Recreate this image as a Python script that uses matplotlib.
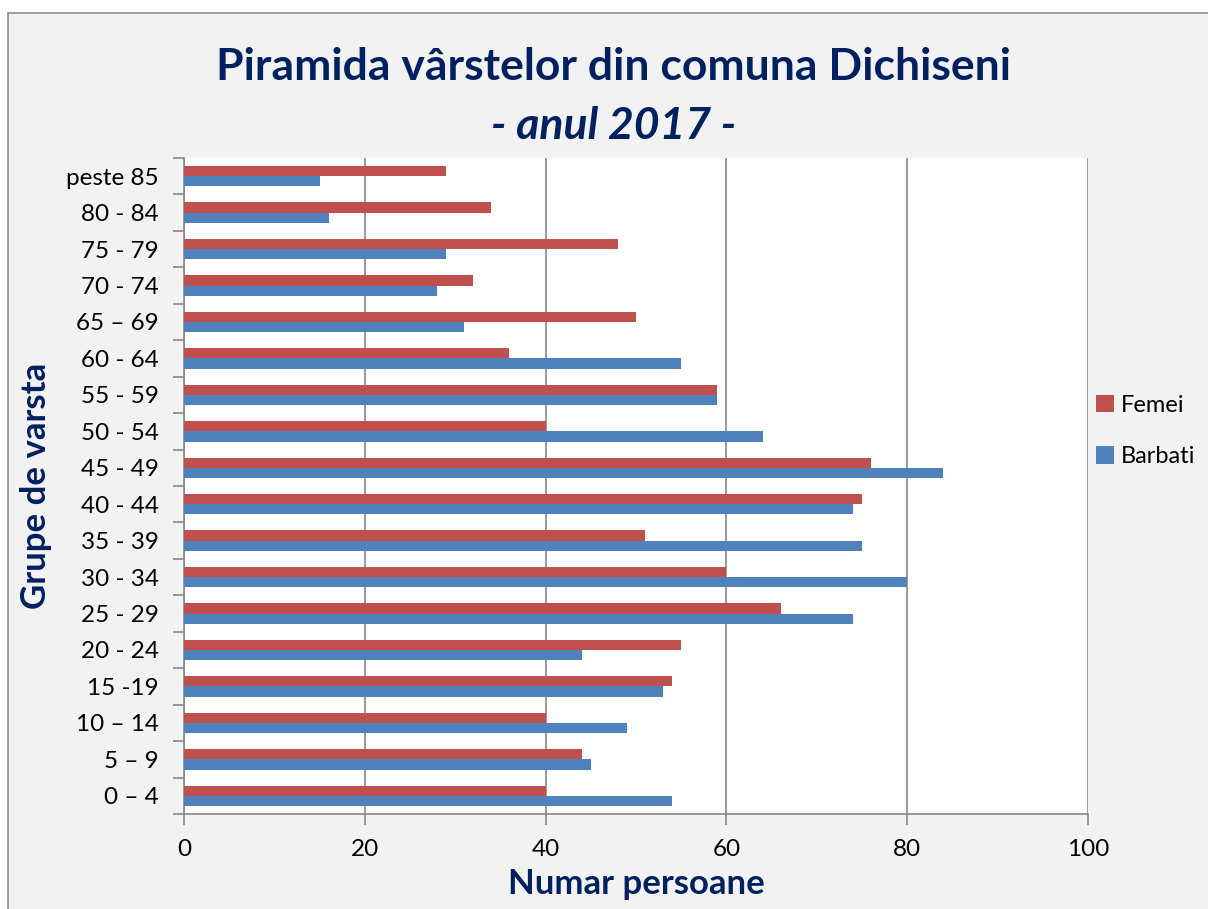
import matplotlib
matplotlib.use("Agg")
import matplotlib.pyplot as plt
import numpy as np
from matplotlib.patches import Rectangle

categories = ["0 – 4", "5 – 9", "10 – 14", "15 -19", "20 - 24", "25 - 29", "30 - 34",
              "35 - 39", "40 - 44", "45 - 49", "50 - 54", "55 - 59", "60 - 64",
              "65 – 69", "70 - 74", "75 - 79", "80 - 84", "peste 85"]
femei = [40, 44, 40, 54, 55, 66, 60, 51, 75, 76, 40, 59, 36, 50, 32, 48, 34, 29]
barbati = [54, 45, 49, 53, 44, 74, 80, 75, 74, 84, 64, 59, 55, 31, 28, 29, 16, 15]
xticks = [0, 20, 40, 60, 80, 100]

plt.rcParams['font.family'] = ['Lato', 'DejaVu Sans']

W, H = 1208, 909
fig = plt.figure(figsize=(W / 100, H / 100), dpi=100)
fig.patch.set_facecolor('white')
fig.patches.append(Rectangle((8 / W, -0.1), 1.2, 1.1 - 13 / H, transform=fig.transFigure,
                             facecolor='#F2F2F2', edgecolor='#8C8C8C', linewidth=1.2,
                             zorder=-10))

ax = fig.add_axes([184 / W, 1 - 814 / H, (1088 - 184) / W, (814 - 158) / H])
ax.set_facecolor('white')
y = np.arange(len(categories))
bh = 0.28
ax.barh(y + bh / 2, femei, height=bh, color='#C0504D', label='Femei', zorder=3)
ax.barh(y - bh / 2, barbati, height=bh, color='#4F81BD', label='Barbati', zorder=3)

ax.set_xlim(0, 100)
ax.set_ylim(-0.5, len(categories) - 0.5)
ax.set_xticks(xticks)
ax.set_xticklabels([str(v) for v in xticks], fontsize=17.5)
ax.set_yticks(y)
ax.set_yticklabels(categories, fontsize=17.5)
ax.set_yticks(np.arange(-0.5, len(categories), 1), minor=True)
ax.tick_params(axis='y', which='major', length=0, pad=18)
ax.tick_params(axis='y', which='minor', length=8, color='#888888', width=1.2)
ax.tick_params(axis='x', length=8, color='#888888', width=1.2, pad=10)
ax.grid(axis='x', color='#888888', linewidth=1.2, zorder=0)
for s in ['top', 'right']:
    ax.spines[s].set_visible(False)
for s in ['left', 'bottom']:
    ax.spines[s].set_color('#888888')
    ax.spines[s].set_linewidth(1.2)

ax.set_xlabel('Numar persoane', fontsize=25, fontweight='bold', color='#002060', labelpad=6)
ax.set_ylabel('Grupe de varsta', fontsize=25, fontweight='bold', color='#002060', labelpad=10)

fig.text(614 / W, 1 - 67 / H, 'Piramida vârstelor din comuna Dichiseni', fontsize=32,
         fontweight='bold', color='#002060', ha='center', va='center')
fig.text(614 / W, 1 - 126 / H, '- anul 2017 -', fontsize=32, fontweight='bold',
         style='italic', color='#002060', ha='center', va='center')

handles, labels = ax.get_legend_handles_labels()
leg = fig.legend(handles, labels, loc='center left', bbox_to_anchor=(1089 / W, 1 - 431 / H),
                 frameon=False, fontsize=17, handlelength=0.75, handleheight=0.75,
                 handletextpad=0.3, labelspacing=1.3, borderaxespad=0, borderpad=0.3)

fig.savefig('out.png', dpi=100, facecolor=fig.get_facecolor())
